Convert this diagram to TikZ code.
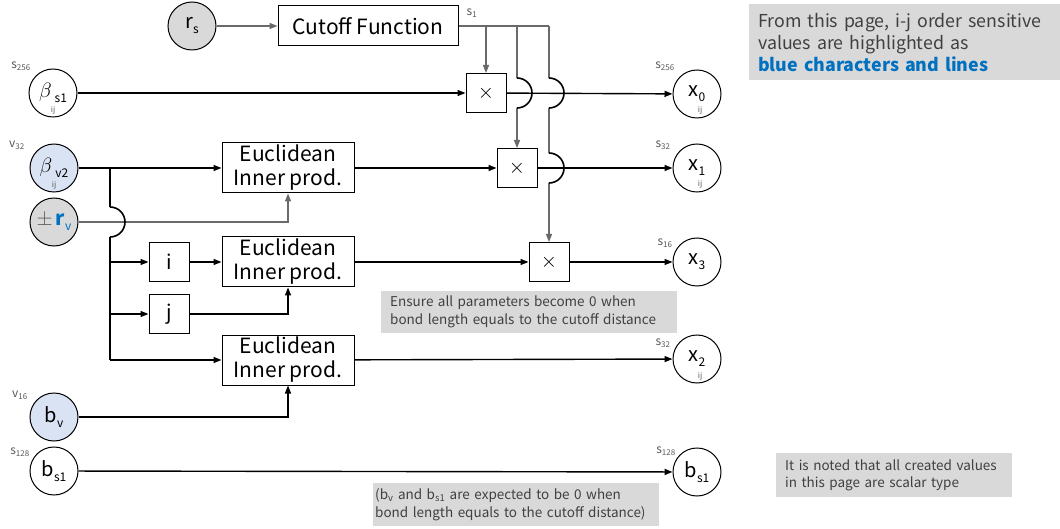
\documentclass[tikz,border=0pt]{standalone}
\usepackage{fontspec}
\setmainfont{Noto Sans CJK JP}
\usetikzlibrary{arrows.meta}
\definecolor{cgray}{HTML}{D9D9D9}
\definecolor{cblue}{HTML}{DAE3F3}
\definecolor{tblue}{HTML}{0070C0}
\definecolor{lgray}{HTML}{6A6A6A}
\definecolor{ntext}{HTML}{404040}
\definecolor{lblc}{HTML}{595959}
\newcommand\fs[1]{\fontsize{#1}{#1}\selectfont}
\newcommand\sbs[1]{\raisebox{-5pt}{\fs{12}#1}}
\hyphenpenalty=10000
\begin{document}
\begin{tikzpicture}[x=1pt,y=-1pt,
  circ/.style={circle,draw=black,line width=1pt,minimum size=48pt,inner sep=0pt,font=\fs{20}},
  box/.style={draw=black,line width=1pt,fill=white,inner sep=0pt},
  opbox/.style={box,minimum width=40pt,minimum height=39pt,font=\fs{20}},
  eubox/.style={box,minimum width=132pt,minimum height=50pt,align=center,font=\fontsize{21}{24}\selectfont},
  tip/.style={-{Triangle[length=8pt,width=6pt]}},
  wire/.style={line width=1.4pt,draw=black},
  gline/.style={line width=1.4pt,draw=lgray},
  hop/.style={line width=1.6pt,draw=black},
  lbl/.style={text=lblc,font=\fs{12},inner sep=0pt},
  ijl/.style={text=lblc,font=\fs{8},inner sep=0pt},
  note/.style={fill=cgray,text=ntext,align=left,anchor=north west,inner ysep=4pt}
]
\useasboundingbox (0,0) rectangle (1060,529);

% ---- input circles
\node[circ,fill=cgray] (rs) at (192,26) {r\sbs{s}};
\node[circ] (bs1) at (53,93) {\fs{22}$\beta$\hspace{3pt}\sbs{s1}};
\node[ijl] (bs1ij) at (53,110) {ij};
\node[lbl] (lbs1) at (21,66) {s\textsubscript{256}};
\node[circ,fill=cblue] (bv2) at (54,168) {\fs{22}$\beta$\hspace{3pt}\sbs{v2}};
\node[ijl] (bv2ij) at (54,185) {ij};
\node[lbl] (lbv2) at (17,145) {v\textsubscript{32}};
\node[circ,fill=cgray] (rv) at (54,222) {\textcolor{lblc}{$\pm$}\,\textcolor{tblue}{\textbf{r}\sbs{v}}};
\node[circ,fill=cblue] (bv) at (54,417) {b\sbs{v}};
\node[lbl] (lbv) at (20,395) {v\textsubscript{16}};
\node[circ] (bsin) at (54,471) {b\sbs{s1}};
\node[lbl] (lbsin) at (20,452) {s\textsubscript{128}};

% ---- output circles
\node[circ] (x0) at (697,94) {x\sbs{0}};
\node[ijl] (x0ij) at (700,110) {ij};
\node[lbl] (lx0) at (665,66) {s\textsubscript{256}};
\node[circ] (x1) at (697,168) {x\sbs{1}};
\node[ijl] (x1ij) at (700,184) {ij};
\node[lbl] (lx1) at (663,145) {s\textsubscript{32}};
\node[circ] (x3) at (697,262) {x\sbs{3}};
\node[lbl] (lx3) at (665,243) {s\textsubscript{16}};
\node[circ] (x2) at (697,359) {x\sbs{2}};
\node[ijl] (x2ij) at (700,376) {ij};
\node[lbl] (lx2) at (663,343) {s\textsubscript{32}};
\node[circ] (bsout) at (697,472) {b\sbs{s1}};
\node[lbl] (lbsout) at (666,451) {s\textsubscript{128}};

% ---- boxes
\node[box,minimum width=180pt,minimum height=40pt,font=\fs{21}] (cut) at (368,26) {Cutoff Function};
\node[lbl] (ls1) at (472,13) {s\textsubscript{1}};
\node[opbox] (m1) at (486,93) {$\times$};
\node[opbox] (m2) at (517,168) {$\times$};
\node[opbox] (m3) at (549,262) {$\times$};
\node[eubox] (e1) at (288,168) {Euclidean\\Inner prod.};
\node[eubox] (e2) at (288,262) {Euclidean\\Inner prod.};
\node[eubox] (e3) at (288,360) {Euclidean\\Inner prod.};
\node[opbox] (bi) at (169,262) {i};
\node[opbox] (bj) at (169,314) {j};

% ---- notes
\node[note,inner xsep=9pt,minimum width=296pt,minimum height=42pt,text width=278pt,font=\fontsize{13.5}{18}\selectfont] (n1) at (381,291)
  {Ensure all parameters become 0 when\\bond length equals to the cutoff distance};
\node[note,inner xsep=2pt,minimum width=286pt,minimum height=43pt,text width=282pt,font=\fontsize{13.5}{18}\selectfont] (n2) at (373,483)
  {(b\textsubscript{v} and b\textsubscript{s1} are expected to be 0 when\\bond length equals to the cutoff distance)};
\node[note,inner xsep=9pt,minimum width=311pt,minimum height=76pt,text width=293pt,font=\fontsize{17.8}{22}\selectfont] (n3) at (749,4)
  {From this page, i-j order sensitive\\values are highlighted as\\\textcolor{tblue}{\textbf{blue characters and lines}}};
\node[note,inner xsep=9pt,minimum width=236pt,minimum height=44pt,text width=218pt,font=\fontsize{13.5}{17}\selectfont] (n4) at (776,453)
  {It is noted that all created values\\in this page are scalar type};

% ---- cutoff wiring
\coordinate (c1) at (486,26);
\coordinate (c2) at (517,26);
\coordinate (c3) at (549,26);
\coordinate (h1a) at (517,78);
\coordinate (h1b) at (517,108);
\coordinate (h2a) at (549,78);
\coordinate (h2b) at (549,108);
\coordinate (h3a) at (549,153);
\coordinate (h3b) at (549,183);
\draw[gline,tip] (rs) -- (cut);
\draw[gline] (cut.east) -- (c3);
\draw[gline,tip] (c1) -- (m1.north);
\draw[gline] (c2) -- (h1a);
\draw[gline,tip] (h1b) -- (m2.north);
\draw[gline] (c3) -- (h2a);
\draw[gline] (h2b) -- (h3a);
\draw[gline,tip] (h3b) -- (m3.north);

% ---- main wires
\draw[wire,tip] (bs1) -- (m1);
\draw[wire,tip] (m1) -- (x0);
\draw[wire,tip] (e1) -- (m2);
\draw[wire,tip] (m2) -- (x1);
\draw[wire,tip] (e2) -- (m3);
\draw[wire,tip] (m3) -- (x3);
\draw[wire,tip] (e3) -- (x2);
\draw[wire,tip] (bsin) -- (bsout);

% hops
\draw[hop] (h1a) arc(-90:90:15);
\draw[hop] (h2a) arc(-90:90:15);
\draw[hop] (h3a) arc(-90:90:15);

% ---- left branch
\coordinate (b0) at (110,168);
\coordinate (b1a) at (110,207);
\coordinate (b1b) at (110,237);
\coordinate (bi0) at (110,262);
\coordinate (bj0) at (110,314);
\coordinate (be3) at (110,360);
\draw[wire,tip] (bv2) -- (e1);
\draw[gline,tip] (rv) -| (e1.south);
\draw[wire] (b0) -- (b1a);
\draw[hop] (b1a) arc(-90:90:15);
\draw[wire] (b1b) -- (be3);
\draw[wire,tip] (bi0) -- (bi);
\draw[wire,tip] (bj0) -- (bj);
\draw[wire,tip] (be3) -- (e3);
\draw[wire,tip] (bi) -- (e2);
\draw[wire,tip] (bj) -| (e2.south);
\draw[wire,tip] (bv) -| (e3.south);
\end{tikzpicture}
\end{document}
